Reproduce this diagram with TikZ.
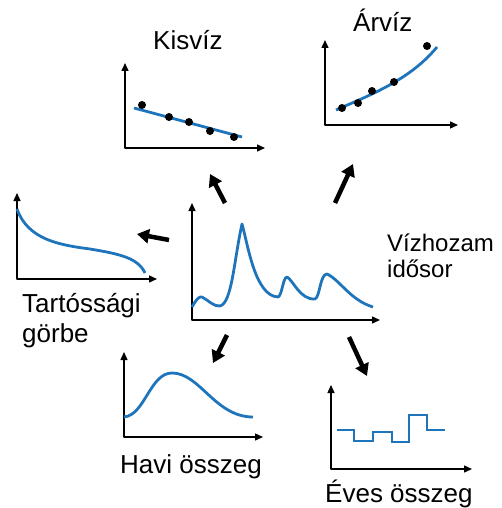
\documentclass[tikz,border=0pt]{standalone}
\usepackage{fontspec}
\setmainfont{Liberation Sans}
\usepackage{tikz}
\usetikzlibrary{arrows.meta,positioning}
\definecolor{vizkek}{RGB}{30,117,188}
\tikzstyle{tengely} = [line width=1.4pt,{Triangle[width=7pt,length=8pt]}-{Triangle[width=7pt,length=8pt]}]
\tikzstyle{gorbe} = [line width=2.8pt,color=vizkek]
\tikzstyle{nyil} = [line width=4.5pt,-{Triangle[width=14pt,length=12pt]}]
\tikzstyle{pont} = [fill=black]
\tikzstyle{felirat} = [inner sep=0pt,anchor=base west,font=\fontsize{26}{30}\selectfont]

\begin{document}
\begin{tikzpicture}[x=1pt,y=-1pt,line join=round]
\useasboundingbox (0,0) rectangle (502,508);

% Kisviz
\draw[tengely] (125,63) -- (125,148) -- (265,148);
\draw[gorbe] (134,108) -- (242,137);
\foreach \p in {(142,105),(169,117),(189,122),(210,131),(234,137)}
  \fill[pont] \p circle (4);
\node[felirat] (kisviz) at (153,50) {Kisvíz};

% Arviz
\draw[tengely] (325,40) -- (325,125) -- (458,125);
\draw[gorbe] (336,110) .. controls (370,95) and (410,80) .. (437,47);
\foreach \p in {(342,108),(358,103),(372,91),(394,82),(427,46)}
  \fill[pont] \p circle (4);
\node[felirat] (arviz) at (353,32) {Árvíz};

% Tartossagi gorbe
\draw[tengely] (17,193) -- (17,279) -- (157,279);
\draw[gorbe] (17,209) .. controls (28,240) and (60,245) .. (90,249)
  .. controls (120,254) and (138,258) .. (145,273);
\node[felirat,align=left] (tartos) at (22,342) {Tartóssági\\görbe};

% Vizhozam idosor
\draw[tengely] (192,203) -- (192,320) -- (380,320);
\draw[gorbe] (192,307) .. controls (196,300) and (199,296) .. (202,297)
  .. controls (208,300) and (214,307) .. (220,306)
  .. controls (232,303) and (234,260) .. (242,224)
  .. controls (248,245) and (255,296) .. (278,297)
  .. controls (282,296) and (283,277) .. (287,277)
  .. controls (293,280) and (300,300) .. (315,299)
  .. controls (320,297) and (320,274) .. (327,274)
  .. controls (340,280) and (350,300) .. (373,307);
\node[felirat,align=left,font=\fontsize{24}{25.5}\selectfont] (vizhozam) at (387,277) {Vízhozam\\idősor};

% Havi osszeg
\draw[tengely] (124,352) -- (124,437) -- (263,437);
\draw[gorbe] (124,417) .. controls (145,415) and (150,373) .. (172,373)
  .. controls (200,373) and (215,417) .. (253,417);
\node[felirat] (havi) at (120,473) {Havi összeg};

% Eves osszeg
\draw[tengely] (331,385) -- (331,469) -- (472,469);
\draw[gorbe,line join=miter] (337,430) -| (354,441) -| (373,432) -| (392,442)
  -| (409,415) -| (427,430) -- (445,430);
\node[felirat] (eves) at (325,502) {Éves összeg};

% Arrows
\coordinate (kisTol) at (225,203);   \coordinate (kisIg) at (210,174);
\coordinate (arTol) at (335,203);    \coordinate (arIg) at (353,164);
\coordinate (tartTol) at (169,240);  \coordinate (tartIg) at (137,234);
\coordinate (haviTol) at (227,335);  \coordinate (haviIg) at (213,363);
\coordinate (evesTol) at (349,337);  \coordinate (evesIg) at (367,376);
\draw[nyil] (kisTol) -- (kisIg);
\draw[nyil] (arTol) -- (arIg);
\draw[nyil] (tartTol) -- (tartIg);
\draw[nyil] (haviTol) -- (haviIg);
\draw[nyil] (evesTol) -- (evesIg);
\end{tikzpicture}
\end{document}
